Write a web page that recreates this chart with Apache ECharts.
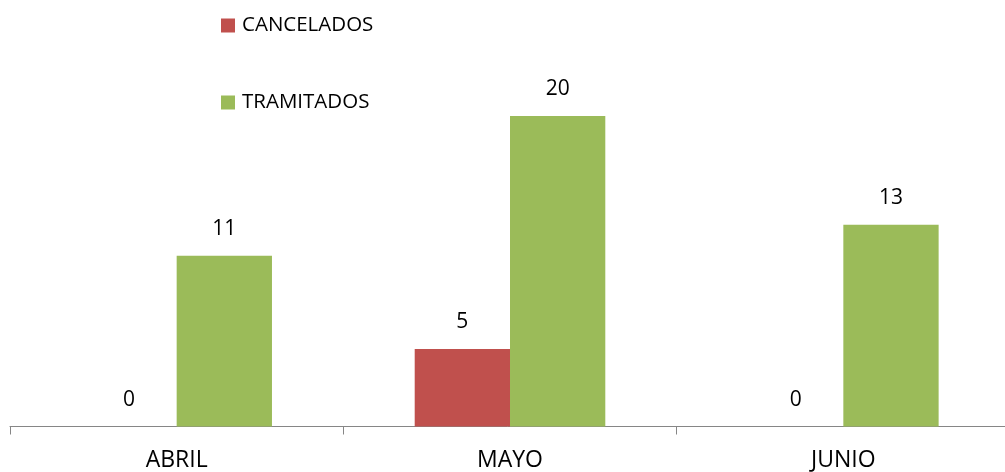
<!DOCTYPE html>
<html>
<head>
<meta charset="utf-8">
<script src="https://cdn.jsdelivr.net/npm/echarts@6/dist/echarts.min.js"></script>
<style>html,body{margin:0;padding:0;background:#fff;}#c{width:1005px;height:472px;}</style>
</head>
<body>
<div id="c"></div>
<script>
const categories = ['ABRIL', 'MAYO', 'JUNIO'];
const cancelados = [0, 5, 0];
const tramitados = [11, 20, 13];
const seriesNames = ['CANCELADOS', 'TRAMITADOS'];

const FONT = 'Open Sans';
const chart = echarts.init(document.getElementById('c'));
const labelCfg = {show: true, position: 'top', distance: 16, color: '#000', fontFamily: FONT, fontSize: 21};
chart.setOption({
  animation: false,
  textStyle: {fontFamily: FONT},
  legend: {
    orient: 'vertical', left: 221, top: 15, padding: 0,
    itemWidth: 14, itemHeight: 14, itemGap: 56,
    icon: 'rect',
    textStyle: {fontFamily: FONT, fontSize: 20.5, color: '#000', padding: [0, 0, 0, 2]},
    data: seriesNames
  },
  grid: {left: 10, top: 116, width: 1000, height: 310.5, containLabel: false, outerBoundsMode: 'none'},
  xAxis: {
    type: 'category', data: categories,
    axisLine: {lineStyle: {color: '#868686', width: 1}},
    axisTick: {show: true, length: 8, lineStyle: {color: '#868686'}},
    axisLabel: {color: '#000', fontFamily: FONT, fontSize: 23, margin: 22}
  },
  yAxis: {type: 'value', min: 0, max: 20, show: false, splitLine: {show: false}},
  series: [
    {name: seriesNames[0], type: 'bar', data: cancelados, barWidth: 95.3, barGap: '0%',
     itemStyle: {color: '#C0504D'}, label: labelCfg},
    {name: seriesNames[1], type: 'bar', data: tramitados, barWidth: 95.3, barGap: '0%',
     itemStyle: {color: '#9BBB59'}, label: labelCfg}
  ]
});
</script>
</body>
</html>
